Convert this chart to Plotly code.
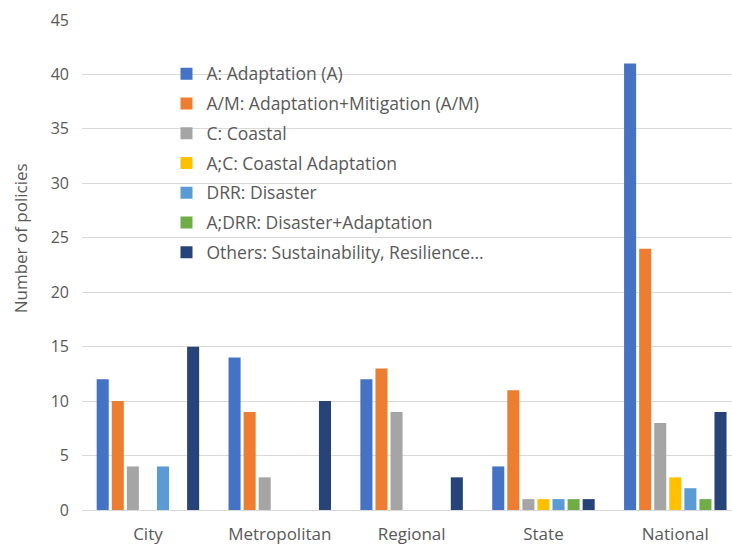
import plotly.graph_objects as go

categories = ["City", "Metropolitan", "Regional", "State", "National"]
series_names = [
    "A: Adaptation (A)",
    "A/M: Adaptation+Mitigation (A/M)",
    "C: Coastal",
    "A;C: Coastal Adaptation",
    "DRR: Disaster",
    "A;DRR: Disaster+Adaptation",
    "Others: Sustainability, Resilience…",
]
adaptation = [12, 14, 12, 4, 41]
adapt_mitig = [10, 9, 13, 11, 24]
coastal = [4, 3, 9, 1, 8]
coastal_adapt = [0, 0, 0, 1, 3]
disaster = [4, 0, 0, 1, 2]
disaster_adapt = [0, 0, 0, 1, 1]
others = [15, 10, 3, 1, 9]
y_ticks = [0, 5, 10, 15, 20, 25, 30, 35, 40, 45]

series_values = [adaptation, adapt_mitig, coastal, coastal_adapt, disaster, disaster_adapt, others]
colors = ["#4472C4", "#ED7D31", "#A5A5A5", "#FFC000", "#5B9BD5", "#70AD47", "#264478"]

FONT = "Open Sans"
fig = go.Figure()
for i, (name, vals, col) in enumerate(zip(series_names, series_values, colors)):
    fig.add_trace(go.Bar(name=name, x=categories, y=vals, marker_color=col,
                         marker_line_width=0, legendgroup=f"g{i}"))

fig.update_layout(
    width=732, height=547,
    margin=dict(l=82, r=0, t=20, b=37),
    paper_bgcolor="white", plot_bgcolor="white",
    barmode="group", bargap=0.2, bargroupgap=0.2,
    font=dict(family=FONT, color="#595959", size=14),
    legend=dict(x=0.13, y=0.927, xanchor="left", yanchor="top",
                bgcolor="rgba(0,0,0,0)", font=dict(size=17.5, color="#595959"),
                tracegroupgap=4, itemwidth=30),
    showlegend=True,
)
fig.update_xaxes(range=[-0.5, 4.43], showgrid=False, showline=False,
                 ticks="", ticklabelstandoff=12, tickfont=dict(size=17, color="#595959"))
fig.update_yaxes(range=[0, 45], tickvals=y_ticks, showgrid=True, gridcolor="#D9D9D9",
                 gridwidth=1, zeroline=True, zerolinecolor="#D9D9D9", zerolinewidth=1,
                 showline=False, ticks="", ticklabelstandoff=12,
                 tickfont=dict(size=16, color="#595959"))
fig.add_annotation(text="Number of policies", textangle=-90, xref="paper", yref="paper",
                   x=-0.095, y=0.555, xanchor="center", yanchor="middle", showarrow=False,
                   font=dict(size=17, color="#595959"))
fig.write_html("out.html")
